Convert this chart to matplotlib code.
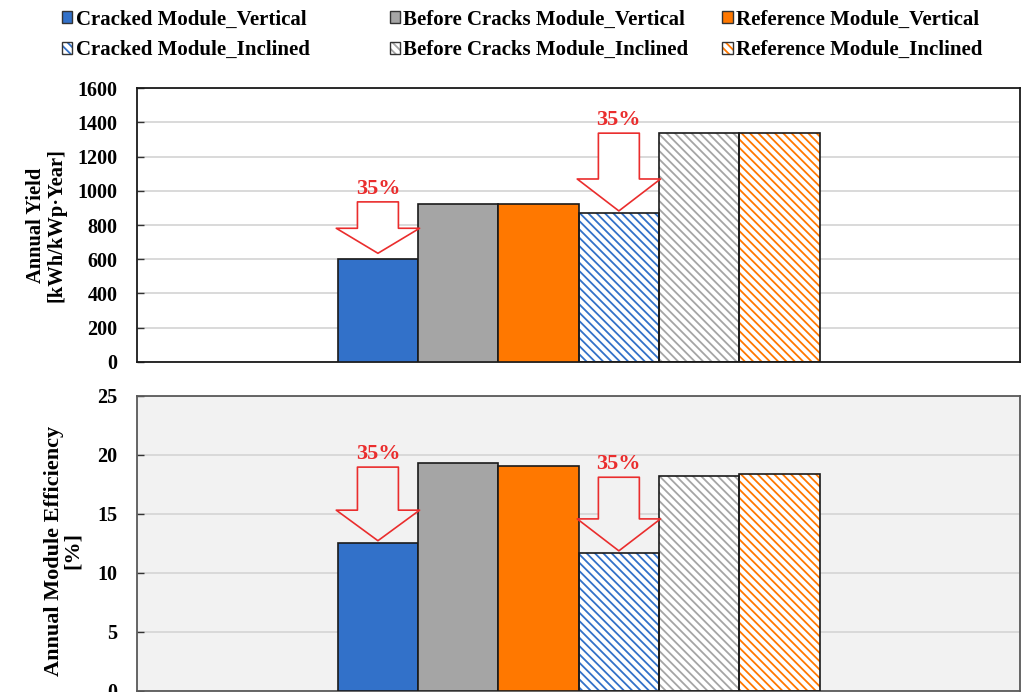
import matplotlib
matplotlib.use("Agg")
import matplotlib.pyplot as plt
from matplotlib.patches import Patch
from matplotlib.legend_handler import HandlerTuple

plt.rcParams["font.family"] = ["Liberation Serif", "DejaVu Serif"]
plt.rcParams["font.weight"] = "bold"
plt.rcParams["hatch.linewidth"] = 1.3

# Series (one bar each)
labels = [
    "Cracked Module_Vertical",
    "Before Cracks Module_Vertical",
    "Reference Module_Vertical",
    "Cracked Module_Inclined",
    "Before Cracks Module_Inclined",
    "Reference Module_Inclined",
]
colors = ["#3271c9", "#a5a5a5", "#ff7800", "#3271c9", "#a5a5a5", "#ff7800"]
hatched = [False, False, False, True, True, True]

annual_yield = [600, 920, 920, 870, 1335, 1335]          # kWh/kWp·Year
module_efficiency = [12.5, 19.3, 19.1, 11.7, 18.2, 18.4]  # %

# Loss callouts: (bar index, label)
callouts = [(0, "35%"), (3, "35%")]
# arrow (total length, head length, gap above bar) in points per panel
yield_arrows = [(37, 18, 4.3), (56, 23, 1.5)]
eff_arrows = [(53, 22, 2), (53, 23, 1.5)]

yield_ticks = [0, 200, 400, 600, 800, 1000, 1200, 1400, 1600]
eff_ticks = [0, 5, 10, 15, 20, 25]

RED = "#ea2d2d"
HATCH = "\\\\\\\\"

fig = plt.figure(figsize=(10.23, 6.92), dpi=100)
ax1 = fig.add_axes([0.1339, 0.4769, 0.8636, 0.3959])
ax2 = fig.add_axes([0.1339, 0.00145, 0.8636, 0.4263])
ax2.set_facecolor("#f2f2f2")

xpos = list(range(len(labels)))


def draw_bars(ax, values):
    for x, v, c, h in zip(xpos, values, colors, hatched):
        if h:
            ax.bar(x, v, width=1.0, color="white", edgecolor=c, hatch=HATCH,
                   linewidth=0, zorder=2)
            ax.bar(x, v, width=1.0, fill=False, edgecolor="#1a1a1a",
                   linewidth=1.2, zorder=3)
        else:
            ax.bar(x, v, width=1.0, color=c, edgecolor="#1a1a1a",
                   linewidth=1.2, zorder=3)


def draw_callouts(ax, values, sizes, fill):
    for (idx, txt), (length, head, gap) in zip(callouts, sizes):
        v = values[idx]
        ax.annotate(
            "", xy=(idx, v), xycoords="data",
            xytext=(0, length + gap), textcoords="offset points",
            arrowprops=dict(
                arrowstyle=f"simple,head_length={head / 10:.2f},"
                           f"head_width=6.0,tail_width=2.95",
                mutation_scale=10, fc=fill, ec=RED, lw=1.2,
                shrinkA=0, shrinkB=gap),
            zorder=5)
        ax.annotate(txt, xy=(idx, v), xycoords="data",
                    xytext=(0, length + gap + 2), textcoords="offset points",
                    ha="center", va="bottom", color=RED, fontsize=16,
                    fontweight="bold", zorder=6)


def style_axes(ax, ticks, edge):
    ax.set_xlim(-3, 8)
    ax.set_ylim(ticks[0], ticks[-1])
    ax.set_yticks(ticks)
    ax.set_xticks([])
    ax.grid(axis="y", color="#d9d9d9", linewidth=1.4, zorder=0)
    ax.set_axisbelow(True)
    ax.tick_params(axis="y", direction="in", length=5, width=1,
                   labelsize=14.5, pad=14, color="#333333")
    for s in ax.spines.values():
        s.set_color(edge)
        s.set_linewidth(1.3)
    for lab in ax.get_yticklabels():
        lab.set_fontweight("bold")


draw_bars(ax1, annual_yield)
draw_bars(ax2, module_efficiency)
style_axes(ax1, yield_ticks, "#1a1a1a")
style_axes(ax2, eff_ticks, "#595959")
draw_callouts(ax1, annual_yield, yield_arrows, "white")
draw_callouts(ax2, module_efficiency, eff_arrows, "#f2f2f2")

ax1.set_ylabel("Annual Yield\n[kWh/kWp·Year]", fontsize=14.8,
               fontweight="bold", linespacing=1.05)
ax1.yaxis.set_label_coords(-0.080, 0.5)
ax2.set_ylabel("Annual Module Efficiency\n[%]", fontsize=16,
               fontweight="bold", linespacing=0.95)
ax2.yaxis.set_label_coords(-0.061, 0.475)

# Legend: three columns (vertical on top, inclined below)
handles = []
for c, h in zip(colors, hatched):
    if h:
        handles.append((Patch(facecolor="white", edgecolor=c, hatch=HATCH, linewidth=0),
                        Patch(fill=False, edgecolor="#333333", linewidth=1.0)))
    else:
        handles.append(Patch(facecolor=c, edgecolor="#333333", linewidth=1.0))

col_x = [0.0606, 0.381, 0.706]
for col, x0 in enumerate(col_x):
    idx = [col, col + 3]
    fig.legend([handles[i] for i in idx], [labels[i] for i in idx],
               handler_map={tuple: HandlerTuple(ndivide=1, pad=0)},
               loc="upper left", bbox_to_anchor=(x0, 0.986), ncol=1,
               frameon=False, fontsize=15, handlelength=0.5, handleheight=0.5,
               handletextpad=0.15, labelspacing=0.5, borderpad=0,
               borderaxespad=0)

fig.savefig("out.png", dpi=100)
